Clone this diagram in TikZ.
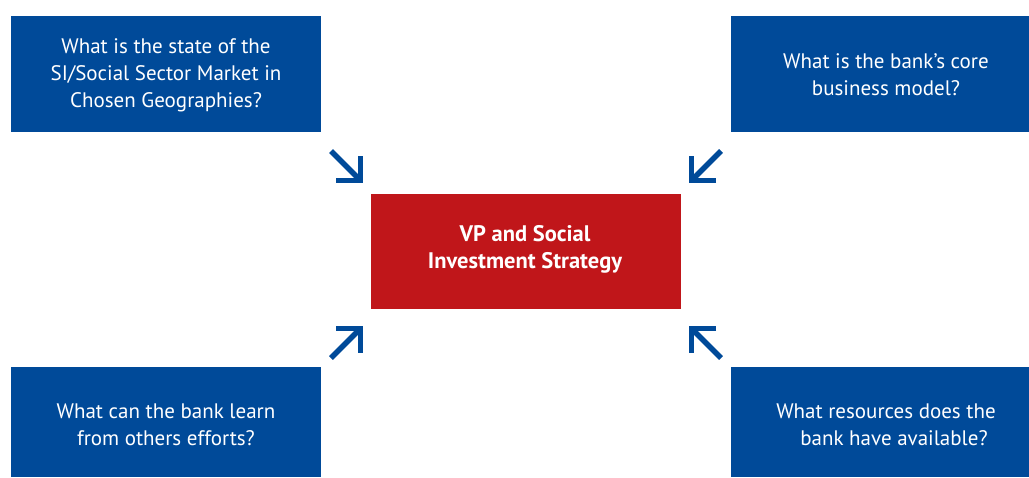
\documentclass[tikz,border=0pt]{standalone}
\usepackage{fontspec}
\setmainfont{PT Sans}
\definecolor{bankblue}{RGB}{0,74,153}
\definecolor{bankred}{RGB}{192,22,26}
\begin{document}
\begin{tikzpicture}[x=1pt,y=-1pt,
  qbox/.style={fill=bankblue, draw=none, inner sep=0pt, minimum width=#1},
  cbox/.style={fill=bankred, draw=none, inner sep=0pt, minimum width=310pt, minimum height=115pt},
  qtext/.style={text=white, align=center, inner sep=0pt, font=\fontsize{21}{27}\selectfont},
  ctext/.style={text=white, align=center, inner sep=0pt, font=\bfseries\fontsize{22.5}{27}\selectfont},
  arr/.style={draw=bankblue, line width=5.5pt, line cap=butt, line join=miter}]
\useasboundingbox (0,0) rectangle (1029,477);
% boxes
\node[qbox=310pt, minimum height=115.5pt] (tl) at (166,73.75) {};
\node[qbox=298pt, minimum height=115.5pt] (tr) at (880,73.75) {};
\node[qbox=310pt, minimum height=110pt] (bl) at (166,422) {};
\node[qbox=298pt, minimum height=110pt] (br) at (880,422) {};
\node[cbox] (c) at (526,251.5) {};
% texts
\node[qtext] (tltext) at (166,75) {What is the state of the\\SI/Social Sector Market in\\Chosen Geographies?};
\node[qtext] (trtext) at (886,74.5) {What is the bank’s core\\business model?};
\node[qtext] (bltext) at (166,424.5) {What can the bank learn\\from others efforts?};
\node[qtext] (brtext) at (886,424.5) {What resources does the\\\hspace*{16pt}bank have available?};
\node[ctext] (ctext) at (525,249.5) {VP and Social\\Investment Strategy};
% arrows
\coordinate (a1s) at (331,151); \coordinate (a1c) at (360.5,180.5);
\coordinate (a1h) at (336,180.5); \coordinate (a1v) at (360.5,156);
\coordinate (a2s) at (721,151); \coordinate (a2c) at (691.5,180.5);
\coordinate (a2h) at (716,180.5); \coordinate (a2v) at (691.5,156);
\coordinate (a3s) at (331,358); \coordinate (a3c) at (360.5,328.5);
\coordinate (a3h) at (336,328.5); \coordinate (a3v) at (360.5,353);
\coordinate (a4s) at (721,358); \coordinate (a4c) at (691.5,328.5);
\coordinate (a4h) at (716,328.5); \coordinate (a4v) at (691.5,353);
\foreach \i in {1,2,3,4}{
  \draw[arr] (a\i s) -- (a\i c);
  \draw[arr] (a\i h) -- (a\i c) -- (a\i v);
}
\end{tikzpicture}
\end{document}
